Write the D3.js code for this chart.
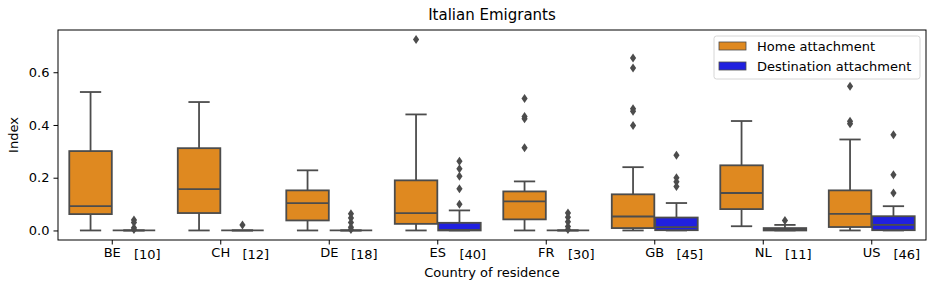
<!DOCTYPE html>
<html>
<head>
<meta charset="utf-8">
<script src="https://cdn.jsdelivr.net/npm/d3@7"></script>
<style>
  body { margin: 0; background: #fff; }
  #BoxChart { width: 939px; height: 290px; }
  text { font-family: "DejaVu Sans", sans-serif; fill: #000; }
</style>
</head>
<body>
<div id="BoxChart"></div>
<script>
// values
var countries = ["BE", "CH", "DE", "ES", "FR", "GB", "NL", "US"];
var counts = [10, 12, 18, 40, 30, 45, 11, 46];
var series = ["Home attachment", "Destination attachment"];
var yTicks = [0.0, 0.2, 0.4, 0.6];

// [low whisker, q1, median, q3, high whisker]
var homeStats = [
  [0, 0.062, 0.092, 0.301, 0.525],
  [0, 0.066, 0.157, 0.312, 0.487],
  [0, 0.038, 0.104, 0.152, 0.228],
  [0, 0.025, 0.066, 0.190, 0.440],
  [0, 0.042, 0.110, 0.148, 0.186],
  [0, 0.009, 0.053, 0.137, 0.240],
  [0.016, 0.081, 0.142, 0.247, 0.415],
  [0, 0.013, 0.063, 0.152, 0.345]
];
var homeOutliers = [
  [], [], [], [0.724],
  [0.500, 0.432, 0.424, 0.314],
  [0.654, 0.616, 0.462, 0.452, 0.398],
  [],
  [0.547, 0.414, 0.405]
];

var destStats = [
  [0, 0, 0, 0, 0],
  [0, 0, 0, 0, 0],
  [0, 0, 0, 0, 0],
  [0, 0, 0.002, 0.029, 0.076],
  [0, 0, 0, 0, 0],
  [0, 0.001, 0.013, 0.049, 0.104],
  [0, 0, 0.003, 0.009, 0.021],
  [0, 0.001, 0.021, 0.054, 0.092]
];
var destOutliers = [
  [0.040, 0.030, 0.010, 0.004],
  [0.021],
  [0.063, 0.047, 0.030, 0.012, 0.004],
  [0.262, 0.234, 0.206, 0.158, 0.099],
  [0.066, 0.050, 0.033, 0.015, 0.004],
  [0.285, 0.200, 0.185, 0.167],
  [0.038],
  [0.363, 0.211, 0.142]
];

var colors = d3.scaleOrdinal().domain(series).range(["#df8920", "#2020df"]);
var gray = "#4c4c4c";
var lw = 1.8;

var margin = { top: 30, right: 13, bottom: 50, left: 58 };
var fullWidth = 939, fullHeight = 290;
var width = fullWidth - margin.left - margin.right;
var height = fullHeight - margin.top - margin.bottom;

var svg = d3.select("#BoxChart")
  .append("svg")
  .attr("width", fullWidth)
  .attr("height", fullHeight);

var chart = svg.append("g")
  .attr("transform", "translate(" + margin.left + "," + margin.top + ")");

var x = d3.scaleBand()
  .domain(countries)
  .range([0, width]);

var xHue = d3.scaleBand()
  .domain(series)
  .range([x.bandwidth() * 0.1, x.bandwidth() * 0.9]);

// matplotlib style 5% margin around the data
var allVals = d3.merge([d3.merge(homeStats), d3.merge(homeOutliers), d3.merge(destStats), d3.merge(destOutliers)]);
var yMin = d3.min(allVals), yMax = d3.max(allVals);
var pad = (yMax - yMin) * 0.05;
var y = d3.scaleLinear()
  .domain([yMin - pad, yMax + pad])
  .range([height, 0]);

// build one record per box
var boxes = [];
countries.forEach(function (c, i) {
  boxes.push({ country: c, hue: series[0], s: homeStats[i], out: homeOutliers[i] });
  boxes.push({ country: c, hue: series[1], s: destStats[i], out: destOutliers[i] });
});

var boxW = xHue.bandwidth() * 0.98;

var g = chart.selectAll(".box")
  .data(boxes)
  .enter()
  .append("g")
  .attr("class", "box")
  .attr("transform", function (d) {
    return "translate(" + (x(d.country) + xHue(d.hue) + xHue.bandwidth() / 2) + ",0)";
  });

// whiskers
g.append("line")
  .attr("x1", 0).attr("x2", 0)
  .attr("y1", function (d) { return y(d.s[0]); })
  .attr("y2", function (d) { return y(d.s[1]); })
  .attr("stroke", gray).attr("stroke-width", lw);
g.append("line")
  .attr("x1", 0).attr("x2", 0)
  .attr("y1", function (d) { return y(d.s[3]); })
  .attr("y2", function (d) { return y(d.s[4]); })
  .attr("stroke", gray).attr("stroke-width", lw);

// caps
[0, 4].forEach(function (k) {
  g.append("line")
    .attr("x1", -boxW / 4).attr("x2", boxW / 4)
    .attr("y1", function (d) { return y(d.s[k]); })
    .attr("y2", function (d) { return y(d.s[k]); })
    .attr("stroke", gray).attr("stroke-width", lw);
});

g.append("rect")
  .attr("x", -boxW / 2)
  .attr("width", boxW)
  .attr("y", function (d) { return y(d.s[3]); })
  .attr("height", function (d) { return y(d.s[1]) - y(d.s[3]); })
  .attr("fill", function (d) { return colors(d.hue); })
  .attr("stroke", gray)
  .attr("stroke-width", lw);

// median
g.append("line")
  .attr("x1", -boxW / 2).attr("x2", boxW / 2)
  .attr("y1", function (d) { return y(d.s[2]); })
  .attr("y2", function (d) { return y(d.s[2]); })
  .attr("stroke", gray).attr("stroke-width", lw);

// fliers, thin diamonds
g.selectAll(".flier")
  .data(function (d) { return d.out; })
  .enter()
  .append("path")
  .attr("class", "flier")
  .attr("d", function (v) {
    var cy = y(v);
    return "M0," + (cy - 4.5) + "L3.1," + cy + "L0," + (cy + 4.5) + "L-3.1," + cy + "Z";
  })
  .attr("fill", gray);

// axes
var yAxis = chart.append("g")
  .call(d3.axisLeft(y).tickValues(yTicks).tickFormat(d3.format(".1f")).tickSize(4.5).tickPadding(4));
yAxis.select(".domain").remove();
yAxis.selectAll("text").style("font-size", "13px");

var xAxis = chart.append("g")
  .attr("transform", "translate(0," + height + ")")
  .call(d3.axisBottom(x).tickSize(4.5).tickPadding(3));
xAxis.select(".domain").remove();
xAxis.selectAll("text").style("font-size", "13px");

// sample sizes beside the country code
chart.selectAll(".count")
  .data(countries)
  .enter()
  .append("text")
  .attr("class", "count")
  .attr("x", function (d) { return x(d) + x.bandwidth() * 0.7; })
  .attr("y", height + 19)
  .style("font-size", "13px")
  .text(function (d, i) { return "[" + counts[i] + "]"; });

// frame
chart.append("rect")
  .attr("width", width)
  .attr("height", height)
  .attr("fill", "none")
  .attr("stroke", "#000")
  .attr("stroke-width", 1);

chart.append("text")
  .attr("x", width / 2)
  .attr("y", -10)
  .attr("text-anchor", "middle")
  .style("font-size", "15px")
  .text("Italian Emigrants");

chart.append("text")
  .attr("x", width / 2)
  .attr("y", height + 37)
  .attr("text-anchor", "middle")
  .style("font-size", "13px")
  .text("Country of residence");

chart.append("text")
  .attr("transform", "translate(" + (-40) + "," + (height / 2) + ")rotate(-90)")
  .attr("text-anchor", "middle")
  .style("font-size", "13px")
  .text("Index");

// legend
var legend = chart.append("g")
  .attr("transform", "translate(" + (width - 212) + ",6)");
legend.append("rect")
  .attr("width", 206)
  .attr("height", 43)
  .attr("rx", 2.5)
  .attr("fill", "#fff")
  .attr("fill-opacity", 0.8)
  .attr("stroke", "#d6d6d6");
var items = legend.selectAll(".item")
  .data(series)
  .enter()
  .append("g")
  .attr("class", "item")
  .attr("transform", function (d, i) { return "translate(5," + (6 + i * 20) + ")"; });
items.append("rect")
  .attr("width", 27)
  .attr("height", 8)
  .attr("fill", function (d) { return colors(d); })
  .attr("stroke", gray)
  .attr("stroke-width", 0.8);
items.append("text")
  .attr("x", 38)
  .attr("y", 8.5)
  .style("font-size", "13px")
  .text(function (d) { return d; });
</script>
</body>
</html>
